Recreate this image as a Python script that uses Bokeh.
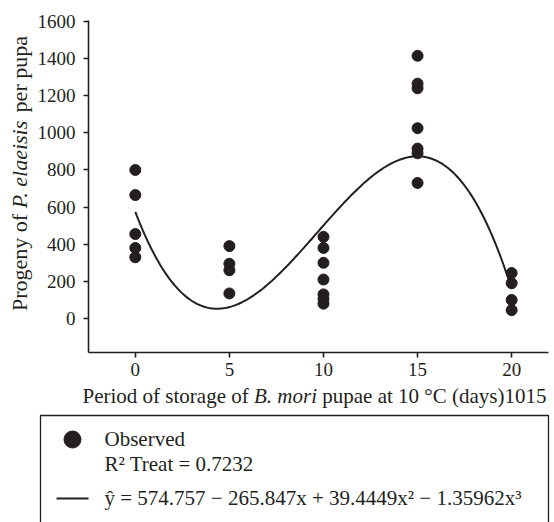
import numpy as np
from bokeh.plotting import figure
from bokeh.layouts import column, row
from bokeh.models import Range1d, FixedTicker
from bokeh.core.properties import value
from bokeh.embed import file_html
from bokeh.resources import INLINE

# ---------------- data ----------------
storage_days = [0, 0, 0, 0, 0,
                5, 5, 5, 5,
                10, 10, 10, 10, 10, 10, 10,
                15, 15, 15, 15, 15, 15, 15,
                20, 20, 20, 20]
progeny = [800, 665, 455, 380, 330,
           390, 295, 260, 135,
           440, 380, 300, 210, 130, 105, 80,
           1415, 1265, 1240, 1025, 915, 890, 730,
           245, 190, 100, 45]
# fitted cubic printed in the legend (intercept, x, x^2, x^3)
fit_coefs = [574.757, -265.847, 39.4449, -1.35962]
x_ticks = [0, 5, 10, 15, 20]
y_ticks = [0, 200, 400, 600, 800, 1000, 1200, 1400, 1600]

legend_observed = "Observed"
legend_r2 = "R² Treat = 0.7232"
legend_eq = "ŷ = 574.757 − 265.847x + 39.4449x² − 1.35962x³"
xlabel_parts = ["Period of storage of", "B. mori", "pupae at 10 °C (days)1015"]
ylabel_parts = ["Progeny of", "P. elaeisis", "per pupa"]

INK = "#231f20"
FONT = value("Liberation Serif")

X_LO, X_HI = -2.487, 21.958
Y_LO, Y_HI = -183, 1605
TOP, BOTTOM = 20, 48
ROW_H = 352 + BOTTOM
YL_W = 34
LG_TOP = 384                      # page row where the lower panel starts
OVERLAP = ROW_H - LG_TOP

def blank(w, h, xr, yr, top=0, bottom=0, **kw):
    f = figure(width=w, height=h, x_range=xr, y_range=yr,
               output_backend="svg", toolbar_location=None,
               x_axis_type=None, y_axis_type=None,
               min_border_left=0, min_border_right=0,
               min_border_top=top, min_border_bottom=bottom, **kw)
    f.outline_line_color = None
    return f

# ---------------- main plot ----------------
p = figure(width=554 - YL_W, height=ROW_H,
           x_range=Range1d(X_LO, X_HI), y_range=Range1d(Y_LO, Y_HI),
           output_backend="svg", toolbar_location=None,
           min_border_left=86 - YL_W, min_border_right=6,
           min_border_top=TOP, min_border_bottom=BOTTOM)
p.grid.visible = False
p.outline_line_color = None
p.background_fill_color = "white"
p.border_fill_color = "white"

for ax in (p.xaxis[0], p.yaxis[0]):
    ax.axis_label = None
    ax.axis_line_color = INK
    ax.axis_line_width = 1.6
    ax.major_tick_line_color = INK
    ax.major_tick_line_width = 1.6
    ax.major_tick_out = 5
    ax.major_tick_in = 0
    ax.minor_tick_line_color = None
    ax.major_label_text_font = "Liberation Serif"
    ax.major_label_text_font_size = "19px"
    ax.major_label_text_color = INK
p.xaxis[0].ticker = FixedTicker(ticks=x_ticks)
p.yaxis[0].ticker = FixedTicker(ticks=y_ticks)
p.xaxis[0].major_label_standoff = 5
p.yaxis[0].major_label_standoff = 8

xs = np.linspace(min(x_ticks), max(x_ticks), 241)
ys = np.polynomial.polynomial.polyval(xs, fit_coefs)
p.line(xs, ys, line_color=INK, line_width=2)
p.scatter(storage_days, progeny, size=11, fill_color=INK, line_color=INK)

# ---------------- y label (frame aligned with main plot, page-pixel units) ----------------
yl = blank(YL_W, ROW_H, Range1d(0, YL_W), Range1d(ROW_H - BOTTOM, TOP), TOP, BOTTOM)
yl.background_fill_color = "white"
yl.border_fill_color = "white"
ysz = 22
ywidths = [4.416, 4.111, 3.471]   # em widths of the three pieces
space = 0.25
total_px = (sum(ywidths) + 2 * space) * ysz
pos = 173 + total_px / 2
for txt, w, style in zip(ylabel_parts, ywidths, ["normal", "italic", "normal"]):
    kw = {"text_font_style": "italic"} if style == "italic" else {}
    yl.text(x=[19], y=[pos], text=[txt], angle=np.pi / 2,
            text_font=FONT, text_font_size=value(f"{ysz}px"),
            text_color=INK, text_align="left", text_baseline="middle", **kw)
    pos -= (w + space) * ysz

# ---------------- x label + legend (transparent panel overlapping the border) ----------------
LG_H = 522 - LG_TOP
lg = blank(554, LG_H, Range1d(0, 554), Range1d(LG_H, 0), margin=(-OVERLAP, 0, 0, 0))
lg.background_fill_color = None
lg.border_fill_color = None
xsz = 21
xwidths = [7.915, 3.0, 10.676]
total = (sum(xwidths) + 2 * space) * xsz
pos = 314 - total / 2
for txt, w, style in zip(xlabel_parts, xwidths, ["normal", "italic", "normal"]):
    kw = {"text_font_style": "italic"} if style == "italic" else {}
    lg.text(x=[pos], y=[11], text=[txt],
            text_font=FONT, text_font_size=value(f"{xsz}px"),
            text_color=INK, text_align="left", text_baseline="middle", **kw)
    pos += (w + space) * xsz

lg.quad(left=[40], right=[548], top=[31], bottom=[160],
        fill_color=None, line_color=INK, line_width=1.3)
lg.scatter([72], [55], size=17, fill_color=INK, line_color=INK)
lg.segment(x0=[56], y0=[114], x1=[88], y1=[114], line_color=INK, line_width=2)
for txt, yy in [(legend_observed, 54), (legend_r2, 79), (legend_eq, 113)]:
    lg.text(x=[104], y=[yy], text=[txt], text_font=FONT,
            text_font_size=value("21px"), text_color=INK,
            text_align="left", text_baseline="middle")

layout = column(row(yl, p), lg)
open("out.html", "w").write(file_html(layout, INLINE))
